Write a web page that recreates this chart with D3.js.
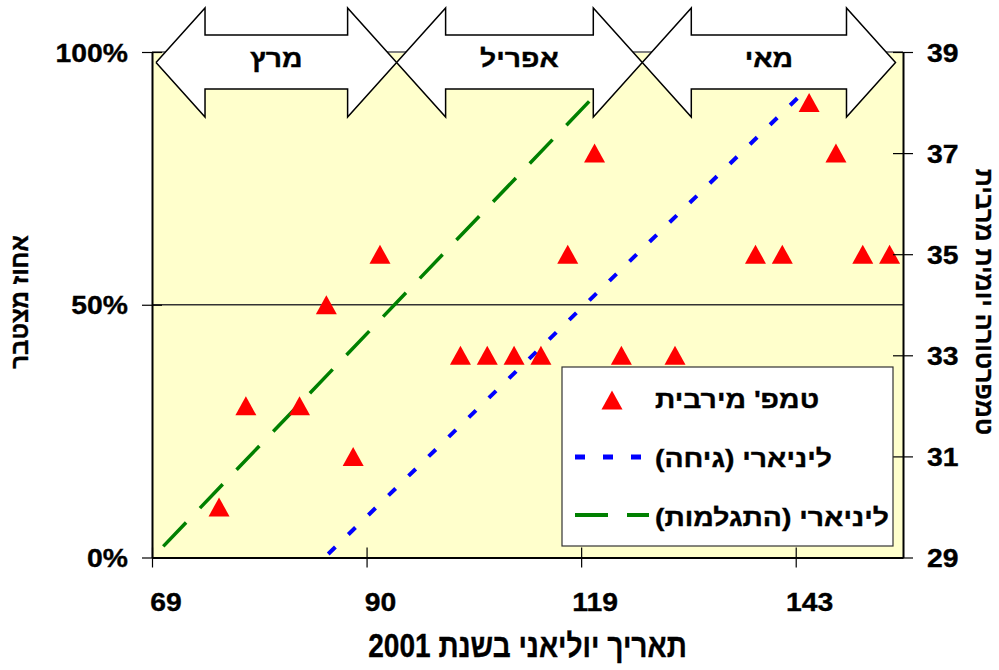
<!DOCTYPE html>
<html lang="he">
<head>
<meta charset="utf-8">
<script src="https://cdn.jsdelivr.net/npm/d3@7/dist/d3.min.js"></script>
<style>
  html, body { margin: 0; padding: 0; background: #fff; }
  svg text { font-family: "Liberation Sans", Arial, sans-serif; font-weight: bold; fill: #000; stroke: #000; stroke-width: 0.35px; }
</style>
</head>
<body>
<div class="chart"></div>
<script>
// sampling dates are categories, only every 8th one carries a label
const categoryCount = 28;
const tickCategories = [0, 8, 16, 24];
const tickLabels = ["69", "90", "119", "143"];

// max temperature per sampling (category index)
const tempCategories = [2, 3, 5, 6, 7, 8, 11, 12, 13, 14, 15, 16, 17, 19, 22, 23, 24, 25, 26, 27];
const tempValues = [30, 32, 32, 34, 31, 35, 33, 33, 33, 33, 35, 37, 33, 33, 35, 35, 38, 37, 35, 35];

// linear trend lines on the cumulative % axis: [category, percent]
const pupationTrend = [[0.42, 2.2], [16.33, 90.4]];
const emergenceTrend = [[6.57, 0.7], [24.4, 92.6]];

const months = ["מרץ", "אפריל", "מאי"];
const monthStart = [0.15, 9.12, 18.28];
const monthEnd = [9.12, 18.28, 27.72];

const pctTicks = [0, 50, 100];
const tempTicks = [29, 31, 33, 35, 37, 39];

const width = 999, height = 670;
const margin = {top: 52, right: 96, bottom: 112.5, left: 152};
const iw = width - margin.left - margin.right;
const ih = height - margin.top - margin.bottom;

const svg = d3.select(".chart")
  .append("svg")
    .attr("width", width)
    .attr("height", height);

const g = svg.append("g")
  .attr("transform", "translate(" + margin.left + "," + margin.top + ")");

const x = d3.scaleLinear().domain([0, categoryCount]).range([0, iw]);
const yPct = d3.scaleLinear().domain([0, 100]).range([ih, 0]);
const yTemp = d3.scaleLinear().domain([29, 39]).range([ih, 0]);

// excel text comes out stretched, squeeze or widen it the same way
function widen(sel, k = 1.18) {
  sel.each(function() {
    const w = this.getComputedTextLength();
    d3.select(this).attr("textLength", w * k).attr("lengthAdjust", "spacingAndGlyphs");
  });
}

/* plot area */
g.append("rect")
  .attr("width", iw)
  .attr("height", ih)
  .attr("fill", "#ffffcc");

g.selectAll(".grid")
  .data(pctTicks.filter(d => d > 0))
  .enter().append("line")
    .attr("x1", 0).attr("x2", iw)
    .attr("y1", d => yPct(d)).attr("y2", d => yPct(d))
    .attr("stroke", d => d === 100 ? "#808080" : "#333")
    .attr("stroke-width", d => d === 100 ? 2 : 1.3);

/* trend lines */
const line = d3.line().x(d => x(d[0])).y(d => yPct(d[1]));

g.append("path")
  .datum(pupationTrend)
  .attr("d", line)
  .attr("fill", "none")
  .attr("stroke", "#008000")
  .attr("stroke-width", 3.5)
  .attr("stroke-dasharray", "33,20");

g.append("path")
  .datum(emergenceTrend)
  .attr("d", line)
  .attr("fill", "none")
  .attr("stroke", "#0000ff")
  .attr("stroke-width", 4)
  .attr("stroke-dasharray", "10,18");

/* points */
const tri = "M0,-9.5L10.5,9.5L-10.5,9.5Z";
g.selectAll(".pt")
  .data(tempCategories.map((c, i) => [c, tempValues[i]]))
  .enter().append("path")
    .attr("class", "pt")
    .attr("d", tri)
    .attr("fill", "#ff0000")
    .attr("transform", d => "translate(" + x(d[0] + 0.5) + "," + yTemp(d[1]) + ")");

/* axes */
function crossTicks(sel, horizontal) {
  sel.select(".domain").attr("stroke", "#000").attr("stroke-width", 2);
  sel.selectAll(".tick line")
    .attr("stroke", "#000")
    .attr("stroke-width", 1.2)
    .attr(horizontal ? "y1" : "x1", -10)
    .attr(horizontal ? "y2" : "x2", 10);
}

const leftAxis = g.append("g")
  .call(d3.axisLeft(yPct).tickValues(pctTicks).tickFormat(d => d + "%").tickSizeOuter(0).tickPadding(18));
crossTicks(leftAxis, false);
leftAxis.selectAll("text").attr("font-size", 25.5).attr("dy", "0.36em").call(widen, 1.11);

const rightAxis = g.append("g")
  .attr("transform", "translate(" + iw + ",0)")
  .call(d3.axisRight(yTemp).tickValues(tempTicks).tickSizeOuter(0).tickPadding(18));
crossTicks(rightAxis, false);
rightAxis.selectAll("text").attr("font-size", 25.5).attr("dy", "0.36em").call(widen, 1.11);

const bottomTicks = g.append("g")
  .attr("transform", "translate(0," + ih + ")")
  .call(d3.axisBottom(x).tickValues(tickCategories).tickFormat("").tickSizeOuter(0));
crossTicks(bottomTicks, true);

const bottomLabels = g.append("g")
  .attr("transform", "translate(0," + ih + ")")
  .call(d3.axisBottom(x).tickValues(tickCategories.map(c => c + 0.5))
    .tickFormat((d, i) => tickLabels[i]).tickSize(0).tickPadding(0));
bottomLabels.select(".domain").remove();
bottomLabels.selectAll("text").attr("font-size", 25.5).attr("dy", null).attr("y", 53).call(widen, 1.11);

/* axis titles */
svg.append("text")
  .attr("direction", "rtl")
  .attr("text-anchor", "middle")
  .attr("font-size", 33)
  .attr("x", margin.left + iw / 2).attr("y", 657)
  .text("תאריך יוליאני בשנת 2001")
  .call(widen, 0.85);

svg.append("text")
  .attr("direction", "rtl")
  .attr("text-anchor", "middle")
  .attr("font-size", 24)
  .attr("transform", "translate(28,302) rotate(-90)")
  .text("אחוז מצטבר");

svg.append("text")
  .attr("direction", "rtl")
  .attr("text-anchor", "middle")
  .attr("font-size", 25)
  .attr("transform", "translate(976,302) rotate(90)")
  .text("טמפרטורה יומית מרבית");

/* legend */
const legend = svg.append("g").attr("transform", "translate(562,367)");
legend.append("rect")
  .attr("width", 331).attr("height", 179)
  .attr("fill", "#fff").attr("stroke", "#333").attr("stroke-width", 1.2);

legend.append("path").attr("d", tri).attr("fill", "#ff0000")
  .attr("transform", "translate(50,33)");
legend.append("line").attr("x1", 13).attr("x2", 80).attr("y1", 90).attr("y2", 90)
  .attr("stroke", "#0000ff").attr("stroke-width", 5).attr("stroke-dasharray", "10,18");
legend.append("line").attr("x1", 13).attr("x2", 87).attr("y1", 148).attr("y2", 148)
  .attr("stroke", "#008000").attr("stroke-width", 4).attr("stroke-dasharray", "33,19");

const legendNames = ["טמפ' מירבית", "ליניארי (גיחה)", "ליניארי (התגלמות)"];
legend.selectAll(".lt")
  .data(legendNames)
  .enter().append("text")
    .attr("direction", "rtl")
    .attr("text-anchor", "end")
    .attr("font-size", 24)
    .attr("x", 93)
    .attr("y", (d, i) => 41 + i * 59)
    .text(d => d)
    .call(widen);

/* month arrows above the plot */
const head = 49, top0 = 8, shaftTop = 35, shaftBot = 89, bot0 = 117, tipY = 62.5;
const arrowLine = d3.line();
function arrowPoints(a, b) {
  return [[a, tipY], [a + head, top0], [a + head, shaftTop], [b - head, shaftTop], [b - head, top0],
          [b, tipY], [b - head, bot0], [b - head, shaftBot], [a + head, shaftBot], [a + head, bot0], [a, tipY]];
}
const arrows = svg.append("g").selectAll(".arrow")
  .data(months.map((m, i) => ({name: m, a: margin.left + x(monthStart[i]), b: margin.left + x(monthEnd[i])})))
  .enter().append("g");

arrows.append("path")
  .attr("d", d => arrowLine(arrowPoints(d.a, d.b)))
  .attr("fill", "#fff")
  .attr("stroke", "#000")
  .attr("stroke-width", 1.5)
  .attr("stroke-linejoin", "miter");

arrows.append("text")
  .attr("direction", "rtl")
  .attr("text-anchor", "middle")
  .attr("font-size", 24)
  .attr("x", d => (d.a + d.b) / 2)
  .attr("y", 67)
  .text(d => d.name)
  .call(widen);
</script>
</body>
</html>
